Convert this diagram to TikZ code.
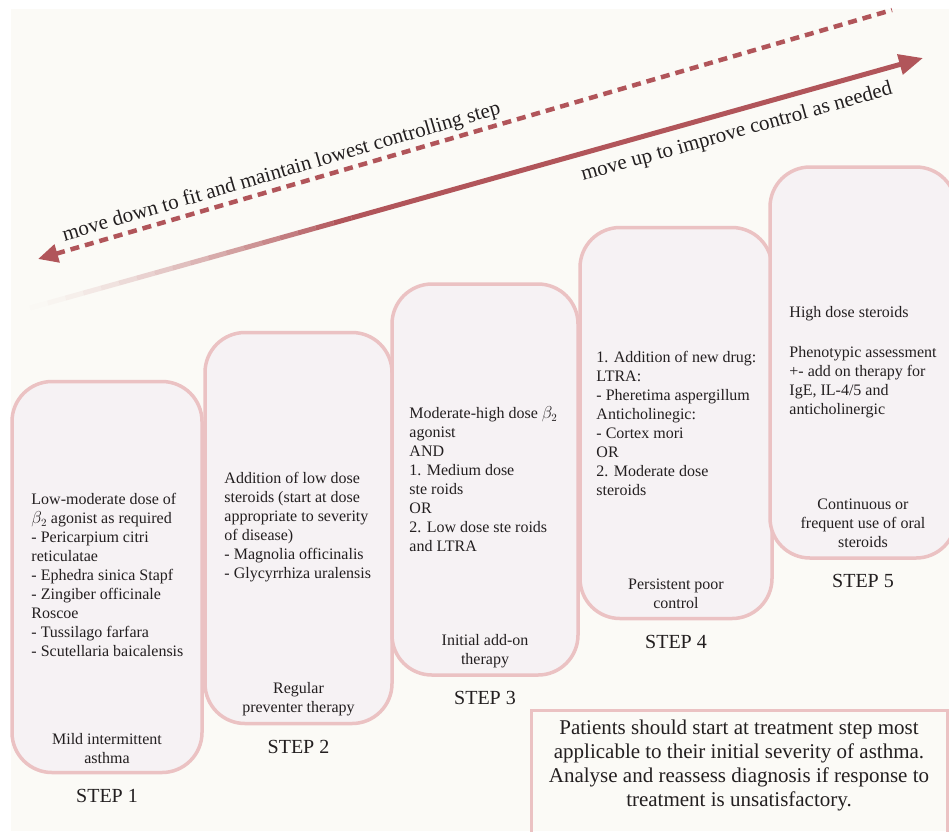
\documentclass[tikz,border=0pt]{standalone}
\usepackage{fontspec}
\setmainfont{Liberation Serif}
\usetikzlibrary{positioning,calc,arrows.meta}

\definecolor{bgcol}{HTML}{FBFAF6}
\definecolor{boxline}{HTML}{EBC2C3}
\definecolor{boxfill}{HTML}{F6F2F4}
\definecolor{arrowcol}{HTML}{B1555A}
\definecolor{txt}{HTML}{231F20}

\tikzset{
    stepbox/.style={draw=boxline, fill=boxfill, line width=3.5pt, rounded corners=40pt, minimum height=391pt, inner sep=0pt},
    body/.style={align=left, anchor=west, inner sep=0pt, text=txt, font=\fontsize{16}{19}\selectfont},
    caption/.style={align=center, anchor=south, inner sep=0pt, text=txt, font=\fontsize{16}{19}\selectfont},
    steplabel/.style={anchor=base, inner sep=0pt, text=txt, font=\fontsize{20}{22}\selectfont},
    arrowline/.style={draw=arrowcol, line width=5pt},
    dashline/.style={draw=arrowcol, line width=4.5pt, dash pattern=on 9pt off 6pt},
    arrowtext/.style={inner sep=0pt, text=txt, font=\fontsize{21}{24}\selectfont, sloped},
    notebox/.style={draw=boxline, line width=3pt, minimum width=416pt, minimum height=130pt, inner sep=0pt},
    notetext/.style={align=center, anchor=north, inner sep=0pt, text=txt, font=\fontsize{21}{24}\selectfont}
}

\begin{document}
\begin{tikzpicture}[x=1pt, y=-1pt]
    \useasboundingbox (0,0) rectangle (949,831);
    \fill[bgcol] (11,9) rectangle (949,831);

    % arrows
    \coordinate (dashB) at (38,259);
    \coordinate (dashA) at (892,10);
    \coordinate (solA) at (30,308);
    \coordinate (solB) at (923,58);
    \coordinate (solM) at ($(solA)!0.36!(solB)$);

    \draw[dashline, {Triangle[length=20pt,width=18pt]}-] (dashB) -- (dashA)
        node[arrowtext, pos=0.29, above=3pt] {move down to fit and maintain lowest controlling step};

    \foreach \i in {1,...,18} {
        \pgfmathsetmacro\ta{(\i-1)/18*0.36}
        \pgfmathsetmacro\tb{\i/18*0.36}
        \pgfmathsetmacro\op{(\i/18)^1.5}
        \draw[arrowline, line cap=butt, draw opacity=\op] ($(solA)!\ta!(solB)$) -- ($(solA)!\tb!(solB)$);
    }
    \draw[arrowline, -{Triangle[length=24pt,width=20pt]}] (solM) -- (solB);
    \path (solA) -- (solB)
        node[arrowtext, pos=0.785, below=12pt] {move up to improve control as needed};

    % steps
    \foreach \n/\x/\y/\w in {1/107/577/190, 2/298.5/528/187, 3/485/479.5/186, 4/676/423/192, 5/863/362.5/186} {
        \node[stepbox, minimum width=\w pt] (s\n) at (\x,\y) {};
        \node[steplabel] (l\n) at ([yshift=-28pt]s\n.south) {STEP \n};
    }

    \node[body] (t1) at ([xshift=21pt, yshift=2pt]s1.west) {Low-moderate dose of\\$\beta_2$ agonist as required\\- Pericarpium citri\\reticulatae\\- Ephedra sinica Stapf\\- Zingiber officinale\\Roscoe\\- Tussilago farfara\\- Scutellaria baicalensis};
    \node[body] (t2) at ([xshift=21pt, yshift=1pt]s2.west) {Addition of low dose\\steroids (start at dose\\appropriate to severity\\of disease)\\- Magnolia officinalis\\- Glycyrrhiza uralensis};
    \node[body] (t3) at ([xshift=19pt]s3.west) {Moderate-high dose $\beta_2$\\agonist\\AND\\1. Medium dose\\ste roids\\OR\\2. Low dose ste roids\\and LTRA};
    \node[body] (t4) at ([xshift=18pt]s4.west) {1. Addition of new drug:\\LTRA:\\- Pheretima aspergillum\\Anticholinegic:\\- Cortex mori\\OR\\2. Moderate dose\\steroids};
    \node[body] (t5) at ([xshift=21pt]s5.west) {High dose steroids\\[21pt]Phenotypic assessment\\+- add on therapy for\\IgE, IL-4/5 and\\anticholinergic};

    \node[caption] (c1) at ([yshift=10pt]s1.south) {Mild intermittent\\asthma};
    \node[caption] (c2) at ([yshift=9pt]s2.south) {Regular\\preventer therapy};
    \node[caption] (c3) at ([yshift=9pt]s3.south) {Initial add-on\\therapy};
    \node[caption] (c4) at ([yshift=11pt]s4.south) {Persistent poor\\control};
    \node[caption] (c5) at ([yshift=12pt]s5.south) {Continuous or\\frequent use of oral\\steroids};

    % note
    \node[notebox] (note) at (739,775) {};
    \node[notetext] (nt) at ([yshift=-11pt]note.north) {Patients should start at treatment step most\\applicable to their initial severity of asthma.\\Analyse and reassess diagnosis if response to\\treatment is unsatisfactory.};
\end{tikzpicture}
\end{document}
